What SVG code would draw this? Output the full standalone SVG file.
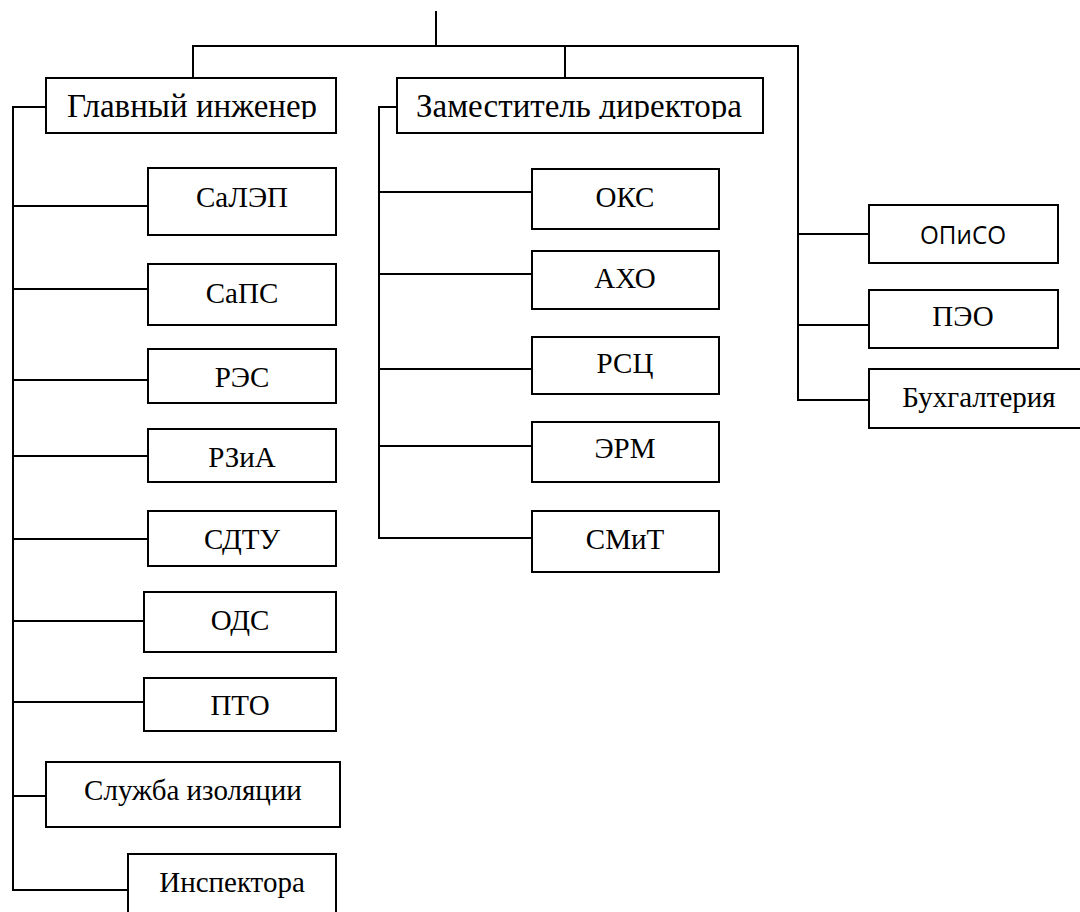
<svg xmlns="http://www.w3.org/2000/svg" width="1080" height="912" viewBox="0 0 1080 912">
  <style>
    .box { fill: #ffffff; stroke: #000000; stroke-width: 2; }
    .wire { fill: none; stroke: #000000; stroke-width: 2; stroke-linecap: square; }
    .hdr { font-family: "Liberation Serif", "Times New Roman", serif; font-size: 33px; text-anchor: middle; fill: #000000; }
    .lbl { font-family: "Liberation Serif", "Times New Roman", serif; font-size: 29px; text-anchor: middle; fill: #000000; }
    .sans { font-family: "Open Sans", "Noto Sans", sans-serif; font-size: 26px; text-anchor: middle; fill: #000000; }
  </style>
  <defs>
    <!-- header captions are cut off just below their baseline -->
    <clipPath id="hdrClip"><rect x="0" y="70" width="1080" height="49"/></clipPath>
  </defs>
  <rect width="1080" height="912" fill="#ffffff"/>

  <g id="connectors">
    <!-- top trunk and bus -->
    <path class="wire" d="M436 12 V46 M193 46 H798 M193 46 V78 M565 46 V78 M798 46 V400"/>
    <!-- chief engineer branch -->
    <path class="wire" d="M46 107 H13 V890"/>
    <path class="wire" d="M13 206 H148 M13 289 H148 M13 380 H148 M13 456 H148 M13 539 H148 M13 621 H144 M13 702 H144 M13 796 H46 M13 890 H128"/>
    <!-- deputy director branch -->
    <path class="wire" d="M397 107 H379 V538"/>
    <path class="wire" d="M379 192 H532 M379 274 H532 M379 369 H532 M379 446 H532 M379 538 H532"/>
    <!-- right-hand branch -->
    <path class="wire" d="M798 234 H869 M798 325 H869 M798 400 H869"/>
  </g>

  <g id="chief-engineer">
    <rect class="box" x="46" y="78" width="290" height="55"/>
    <text class="hdr" x="192" y="117" clip-path="url(#hdrClip)">Главный инженер</text>
  </g>
  <g id="deputy-director">
    <rect class="box" x="397" y="78" width="366" height="55"/>
    <text class="hdr" x="579" y="117" clip-path="url(#hdrClip)">Заместитель директора</text>
  </g>

  <g id="salep"><rect class="box" x="148" y="168" width="188" height="67"/><text class="lbl" x="242" y="207">СаЛЭП</text></g>
  <g id="saps"><rect class="box" x="148" y="264" width="188" height="61"/><text class="lbl" x="242" y="303">СаПС</text></g>
  <g id="res"><rect class="box" x="148" y="349" width="188" height="54"/><text class="lbl" x="242" y="387">РЭС</text></g>
  <g id="rzia"><rect class="box" x="148" y="429" width="188" height="53"/><text class="lbl" x="242" y="467">РЗиА</text></g>
  <g id="sdtu"><rect class="box" x="148" y="511" width="188" height="55"/><text class="lbl" x="242" y="549">СДТУ</text></g>
  <g id="ods"><rect class="box" x="144" y="592" width="192" height="60"/><text class="lbl" x="240" y="630">ОДС</text></g>
  <g id="pto"><rect class="box" x="144" y="678" width="192" height="53"/><text class="lbl" x="240" y="715">ПТО</text></g>
  <g id="insulation"><rect class="box" x="46" y="762" width="294" height="65"/><text class="lbl" x="193" y="800">Служба изоляции</text></g>
  <g id="inspectors"><rect class="box" x="128" y="854" width="208" height="64"/><text class="lbl" x="232" y="892">Инспектора</text></g>

  <g id="oks"><rect class="box" x="532" y="169" width="187" height="60"/><text class="lbl" x="625" y="207">ОКС</text></g>
  <g id="aho"><rect class="box" x="532" y="251" width="187" height="58"/><text class="lbl" x="625" y="288">АХО</text></g>
  <g id="rsc"><rect class="box" x="532" y="337" width="187" height="57"/><text class="lbl" x="625" y="373">РСЦ</text></g>
  <g id="erm"><rect class="box" x="532" y="422" width="187" height="60"/><text class="lbl" x="625" y="458">ЭРМ</text></g>
  <g id="smit"><rect class="box" x="532" y="511" width="187" height="61"/><text class="lbl" x="625" y="549">СМиТ</text></g>

  <g id="opiso"><rect class="box" x="869" y="205" width="189" height="58"/><text class="sans" x="963" y="244" textLength="86" lengthAdjust="spacingAndGlyphs">ОПиСО</text></g>
  <g id="peo"><rect class="box" x="869" y="290" width="189" height="58"/><text class="lbl" x="963" y="326">ПЭО</text></g>
  <g id="accounting"><rect class="box" x="869" y="369" width="230" height="59"/><text class="lbl" x="979" y="407">Бухгалтерия</text></g>
</svg>
